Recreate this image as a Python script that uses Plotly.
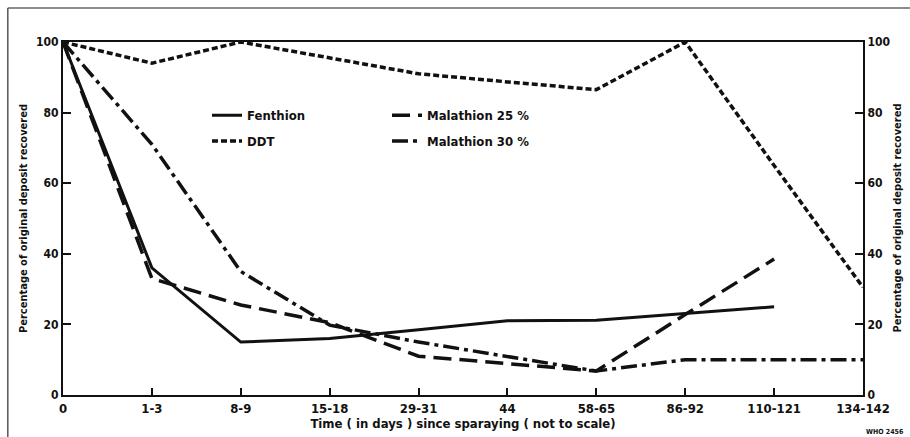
import plotly.graph_objects as go

categories = ["0", "1-3", "8-9", "15-18", "29-31", "44", "58-65", "86-92", "110-121", "134-142"]

fenthion = [100, 36, 15, 16, 18.5, 21, 21.2, 23, 25, None]
ddt = [100, 94, 100, 95.5, 91, 88.7, 86.5, 100, 65, 30.5]
malathion25 = [100, 33, 25.5, 20.5, 11, 9, 6.8, 22.8, 38.5, None]
malathion30 = [100, 71, 35, 19.8, 15, 11, 6.8, 10, 10, 10]

y_ticks = [0, 20, 40, 60, 80, 100]
y_title = "Percentage of original deposit recovered"
x_title = "Time ( in days ) since sparaying ( not to scale)"

FONT = "DejaVu Sans Condensed, Liberation Sans Narrow, Arial Narrow, DejaVu Sans, sans-serif"
BLACK = "#111111"

fig = go.Figure()

fig.add_trace(go.Scatter(x=categories, y=fenthion, mode="lines", name="Fenthion",
                         line=dict(color=BLACK, width=3), legend="legend", legendgroup="a"))
fig.add_trace(go.Scatter(x=categories, y=ddt, mode="lines", name="DDT",
                         line=dict(color=BLACK, width=3.5, dash="6px,3px"), legend="legend", legendgroup="b"))
fig.add_trace(go.Scatter(x=categories, y=malathion25, mode="lines", name="Malathion 25 %",
                         line=dict(color=BLACK, width=3.5, dash="18px,8px"), legend="legend2", legendgroup="c"))
fig.add_trace(go.Scatter(x=categories, y=malathion30, mode="lines", name="Malathion 30 %",
                         line=dict(color=BLACK, width=3.5, dash="16px,5px,4px,5px"), legend="legend2", legendgroup="d"))
# invisible trace to activate right-hand axis
fig.add_trace(go.Scatter(x=categories, y=malathion30, mode="lines", yaxis="y2",
                         line=dict(color="rgba(0,0,0,0)", width=0), showlegend=False, hoverinfo="skip"))

axis_font = dict(family=FONT, size=12, color=BLACK)
title_font = dict(family=FONT, size=11, color=BLACK)

fig.update_layout(
    width=910, height=437,
    margin=dict(l=63, r=47, t=42, b=42, autoexpand=False),
    paper_bgcolor="white", plot_bgcolor="white",
    font=dict(family=FONT, size=13, color=BLACK),
    xaxis=dict(
        type="category", categoryorder="array", categoryarray=categories,
        range=[0, len(categories) - 1], automargin=False,
        showgrid=False, zeroline=False,
        showline=True, linecolor=BLACK, linewidth=2, mirror=True,
        ticks="inside", ticklen=7, tickwidth=1.5, tickcolor=BLACK,
        tickfont=dict(family=FONT, size=13, color=BLACK),
        title=dict(text=f"<b>{x_title}</b>",
                   font=dict(family=FONT, size=13, color=BLACK), standoff=4),
    ),
    yaxis=dict(
        range=[0, 100], tickvals=y_ticks, automargin=False,
        showgrid=False, zeroline=False,
        showline=True, linecolor=BLACK, linewidth=2,
        ticks="inside", ticklen=8, tickwidth=1.5, tickcolor=BLACK,
        tickfont=axis_font,
        title=dict(text=f"<b>{y_title}</b>", font=title_font, standoff=6),
    ),
    yaxis2=dict(
        range=[0, 100], tickvals=y_ticks, overlaying="y", side="right", automargin=False,
        showgrid=False, zeroline=False,
        showline=True, linecolor=BLACK, linewidth=2,
        ticks="inside", ticklen=8, tickwidth=1.5, tickcolor=BLACK,
        tickfont=axis_font,
    ),
    legend=dict(x=0.18, y=0.835, xanchor="left", yanchor="top",
                bgcolor="rgba(0,0,0,0)", tracegroupgap=6,
                font=dict(family=FONT, size=13, color=BLACK)),
    legend2=dict(x=0.405, y=0.835, xanchor="left", yanchor="top",
                 bgcolor="rgba(0,0,0,0)", tracegroupgap=6,
                 font=dict(family=FONT, size=13, color=BLACK)),
    showlegend=True,
)

# Bold tick labels
fig.update_xaxes(ticktext=[f"<b>{c}</b>" for c in categories], tickvals=categories)
fig.update_yaxes(ticktext=[f"<b>{v}</b>" for v in y_ticks], tickvals=y_ticks)
for tr in fig.data:
    if tr.name:
        tr.name = f"<b>{tr.name}</b>"

# right-hand axis title
fig.add_annotation(text=f"<b>{y_title}</b>", xref="paper", yref="paper", x=1.0425, y=0.5,
                   textangle=-90, showarrow=False, font=title_font,
                   xanchor="center", yanchor="middle")

# outer frame (top and left edges of the printed figure)
fig.add_shape(type="line", xref="paper", yref="paper", x0=-0.069, x1=1.06, y0=1.096, y1=1.096,
              line=dict(color="#666666", width=1.5), layer="above")
fig.add_shape(type="line", xref="paper", yref="paper", x0=-0.069, x1=-0.069, y0=1.096, y1=-0.12,
              line=dict(color="#555555", width=1.5), layer="above")

fig.add_annotation(text="<b>WHO 2456</b>", xref="paper", yref="paper", x=1.054, y=-0.105,
                   showarrow=False, font=dict(family=FONT, size=7, color=BLACK),
                   xanchor="right", yanchor="middle")

fig.write_html("out.html", config={"displayModeBar": False},
               post_script="document.body.style.margin='0';document.body.style.overflow='hidden';")
